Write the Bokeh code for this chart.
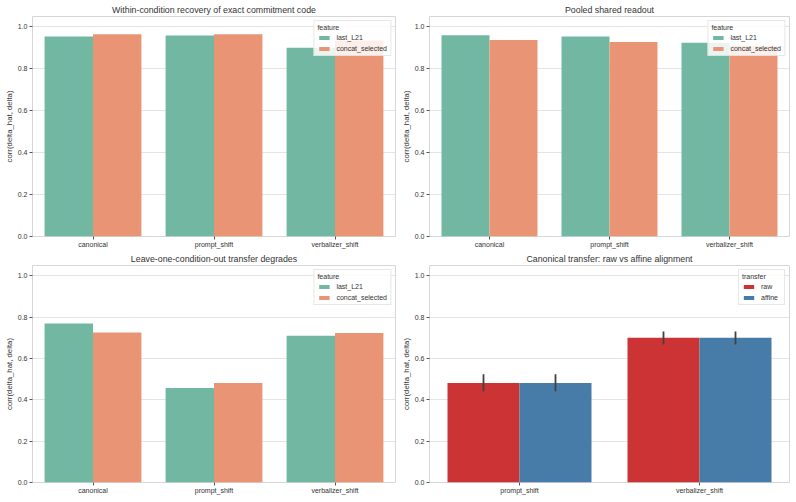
from bokeh.plotting import figure
from bokeh.layouts import column, row
from bokeh.models import Range1d, FactorRange, FixedTicker, PrintfTickFormatter, ColumnDataSource
from bokeh.transform import dodge
from bokeh.embed import file_html
from bokeh.resources import INLINE

# ---------------- data ----------------
conditions = ["canonical", "prompt_shift", "verbalizer_shift"]
features = ["last_L21", "concat_selected"]

within_last = [0.954, 0.959, 0.901]
within_concat = [0.965, 0.965, 0.935]

pooled_last = [0.960, 0.954, 0.925]
pooled_concat = [0.938, 0.928, 0.910]

loco_last = [0.769, 0.457, 0.710]
loco_concat = [0.726, 0.481, 0.723]

transfer_conditions = ["prompt_shift", "verbalizer_shift"]
transfers = ["raw", "affine"]
raw_mean = [0.482, 0.700]
raw_lo = [0.441, 0.668]
raw_hi = [0.524, 0.731]
affine_mean = [0.482, 0.700]
affine_lo = [0.441, 0.668]
affine_hi = [0.524, 0.731]

y_ticks = [0.0, 0.2, 0.4, 0.6, 0.8, 1.0]
y_label = "corr(delta_hat, delta)"

# ---------------- style ----------------
FONT = "Liberation Sans"
TEXT = "#333333"
SET2 = ["#71b7a1", "#e99575"]
SET1 = ["#cb3335", "#477ca8"]


def make_fig(title, factors, w, h, bl, br, bt, bb):
    p = figure(x_range=FactorRange(*factors), y_range=Range1d(0, 1.05),
               width=w, height=h, output_backend="svg", toolbar_location=None,
               min_border_left=bl, min_border_right=br,
               min_border_top=bt, min_border_bottom=bb)
    p.title.text = title
    p.title.align = "center"
    p.title.text_font = FONT
    p.title.text_font_size = "8.8px"
    p.title.text_font_style = "normal"
    p.title.text_color = TEXT
    p.title.standoff = 3
    p.background_fill_color = "white"
    p.border_fill_color = "white"
    p.outline_line_color = "#d6d6d6"
    p.outline_line_width = 1

    p.yaxis.ticker = FixedTicker(ticks=y_ticks)
    p.yaxis.formatter = PrintfTickFormatter(format="%.1f")
    p.yaxis.axis_label = y_label
    p.yaxis.axis_label_text_font = FONT
    p.yaxis.axis_label_text_font_size = "7.8px"
    p.yaxis.axis_label_text_font_style = "normal"
    p.yaxis.axis_label_text_color = TEXT
    p.yaxis.axis_label_standoff = 1
    for ax in (p.xaxis[0], p.yaxis[0]):
        ax.axis_line_color = None
        ax.major_tick_line_color = "#555555"
        ax.major_tick_line_width = 1
        ax.major_tick_out = 3
        ax.major_tick_in = 0
        ax.minor_tick_line_color = None
        ax.major_label_text_font = FONT
        ax.major_label_text_font_size = "7px"
        ax.major_label_text_color = TEXT
    p.yaxis.major_label_standoff = 2
    p.xaxis.major_label_standoff = 1

    p.xgrid.grid_line_color = None
    p.ygrid.grid_line_color = "#e4e4e4"
    p.ygrid.grid_line_width = 1
    return p


def style_legend(p, title):
    lg = p.legend[0]
    lg.title = title
    lg.location = "top_right"
    lg.margin = 4
    lg.padding = 3
    lg.spacing = 3
    lg.label_height = 8
    lg.glyph_height = 5
    lg.glyph_width = 13
    lg.label_standoff = 6
    lg.title_standoff = 2
    lg.label_text_font = FONT
    lg.label_text_font_size = "7px"
    lg.label_text_color = TEXT
    lg.title_text_font = FONT
    lg.title_text_font_size = "7px"
    lg.title_text_font_style = "normal"
    lg.title_text_color = TEXT
    lg.border_line_color = "#d0d0d0"
    lg.border_line_width = 1
    lg.background_fill_color = "white"
    lg.background_fill_alpha = 0.85


def feature_panel(title, last_vals, concat_vals, w, h, bl, br, bt, bb):
    p = make_fig(title, conditions, w, h, bl, br, bt, bb)
    src = ColumnDataSource(dict(cond=conditions, last=last_vals, concat=concat_vals))
    p.vbar(x=dodge("cond", -0.2, range=p.x_range), top="last", width=0.4, bottom=0,
           source=src, fill_color=SET2[0], line_color=None, legend_label=features[0])
    p.vbar(x=dodge("cond", 0.2, range=p.x_range), top="concat", width=0.4, bottom=0,
           source=src, fill_color=SET2[1], line_color=None, legend_label=features[1])
    style_legend(p, "feature")
    return p


p1 = feature_panel("Within-condition recovery of exact commitment code",
                   within_last, within_concat, 398, 250, 32, 3, 16, 13)
p2 = feature_panel("Pooled shared readout",
                   pooled_last, pooled_concat, 398, 250, 29, 7, 16, 13)
p3 = feature_panel("Leave-one-condition-out transfer degrades",
                   loco_last, loco_concat, 398, 252, 32, 3, 13, 20)

p4 = make_fig("Canonical transfer: raw vs affine alignment", transfer_conditions,
              398, 252, 30, 7, 13, 20)
src4 = ColumnDataSource(dict(cond=transfer_conditions,
                             raw=raw_mean, raw_lo=raw_lo, raw_hi=raw_hi,
                             aff=affine_mean, aff_lo=affine_lo, aff_hi=affine_hi))
p4.vbar(x=dodge("cond", -0.2, range=p4.x_range), top="raw", width=0.4, bottom=0,
        source=src4, fill_color=SET1[0], line_color=None, legend_label=transfers[0])
p4.vbar(x=dodge("cond", 0.2, range=p4.x_range), top="aff", width=0.4, bottom=0,
        source=src4, fill_color=SET1[1], line_color=None, legend_label=transfers[1])
p4.segment(x0=dodge("cond", -0.2, range=p4.x_range), y0="raw_lo",
           x1=dodge("cond", -0.2, range=p4.x_range), y1="raw_hi",
           source=src4, line_color="#424242", line_width=1.8)
p4.segment(x0=dodge("cond", 0.2, range=p4.x_range), y0="aff_lo",
           x1=dodge("cond", 0.2, range=p4.x_range), y1="aff_hi",
           source=src4, line_color="#424242", line_width=1.8)
style_legend(p4, "transfer")

layout = column(row(p1, p2), row(p3, p4))
open("out.html", "w").write(file_html(layout, INLINE))
